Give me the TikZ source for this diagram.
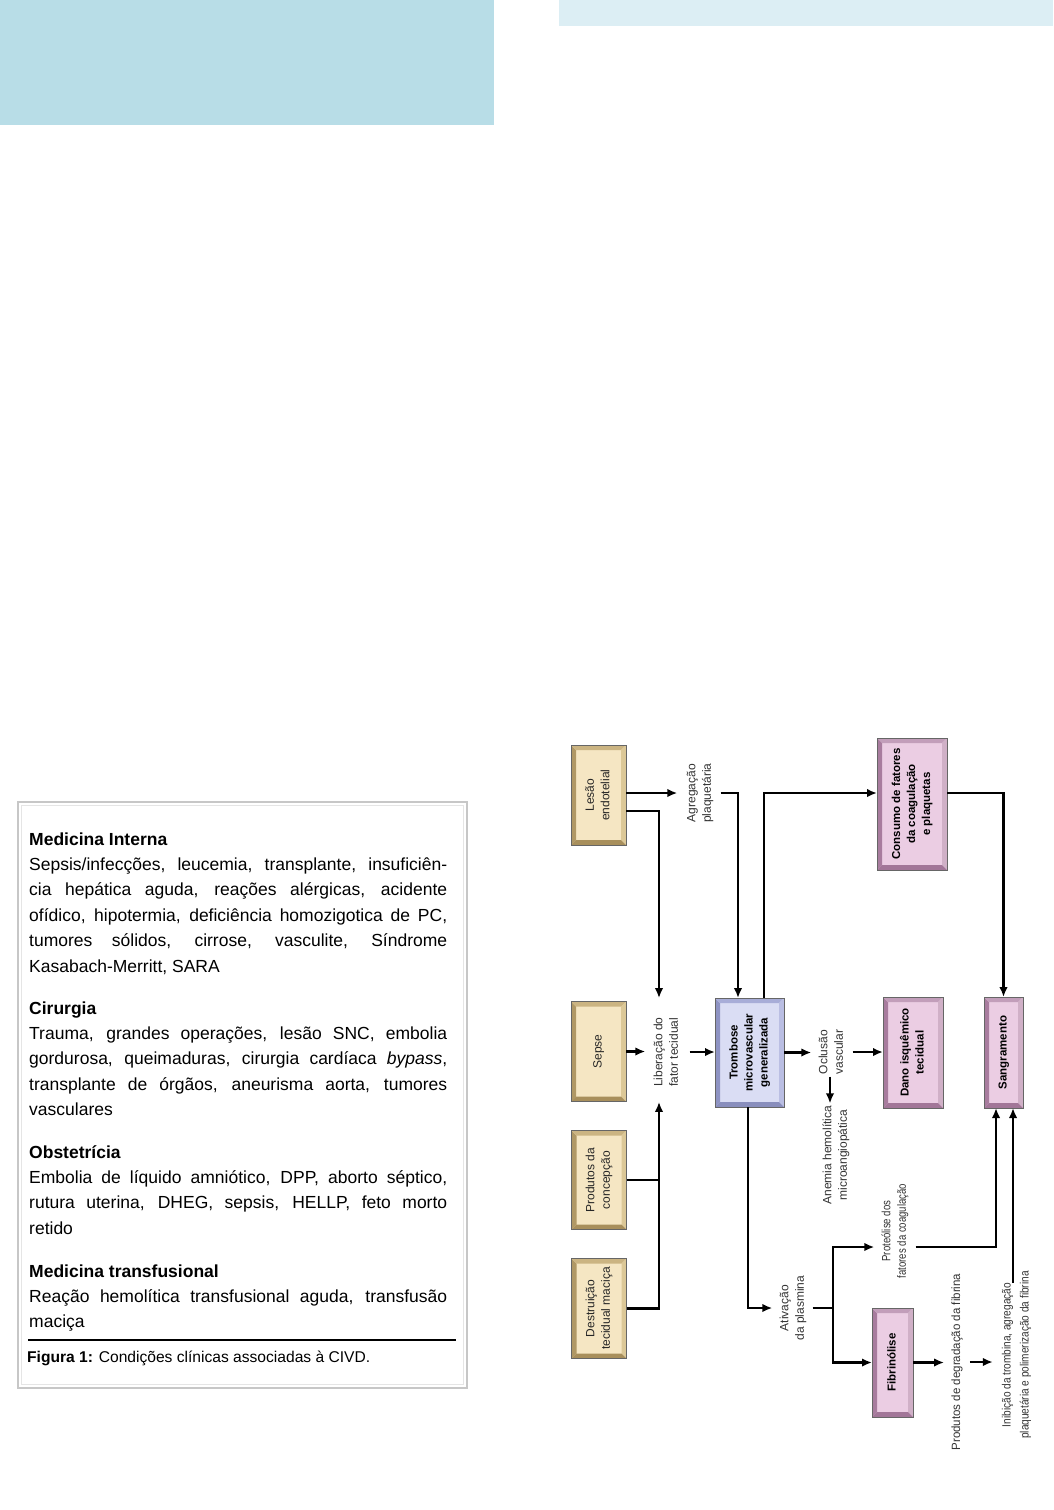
\documentclass[tikz,border=0pt]{standalone}
\usepackage{fontspec}
\setmainfont{Liberation Sans}
\usepackage{graphicx}
\usetikzlibrary{calc,arrows.meta}

\definecolor{bannerA}{HTML}{B8DDE7}
\definecolor{bannerB}{HTML}{DCEEF4}
\definecolor{tanface}{HTML}{F5E6C3}
\definecolor{tanL}{HTML}{B09865}
\definecolor{tanT}{HTML}{CBB482}
\definecolor{tanR}{HTML}{DCC897}
\definecolor{tanB}{HTML}{A88F5C}
\definecolor{blueface}{HTML}{DADDF4}
\definecolor{blueL}{HTML}{8E93C3}
\definecolor{blueT}{HTML}{A8ADD8}
\definecolor{blueR}{HTML}{BABEE3}
\definecolor{blueB}{HTML}{898EBD}
\definecolor{pinkface}{HTML}{EBCDE3}
\definecolor{pinkL}{HTML}{A87C9E}
\definecolor{pinkT}{HTML}{C29EBA}
\definecolor{pinkR}{HTML}{D0B0C7}
\definecolor{pinkB}{HTML}{A27698}
\definecolor{diagtext}{HTML}{333333}

\newcommand\rl[2][1]{\rotatebox{90}{\scalebox{#1}[1]{\begin{tabular}{@{}c@{}}#2\end{tabular}}}}
\newcommand\jl[1]{\hbox to\hsize{#1}}
\newcommand\nl[1]{\hbox{#1}}
\newcommand\bevel[5]{%
  \fill[#2] (#1.north west) -- ([shift={(5pt,-5pt)}]#1.north west) -- ([shift={(5pt,5pt)}]#1.south west) -- (#1.south west) -- cycle;
  \fill[#3] (#1.north west) -- (#1.north east) -- ([shift={(-5pt,-5pt)}]#1.north east) -- ([shift={(5pt,-5pt)}]#1.north west) -- cycle;
  \fill[#4] (#1.north east) -- (#1.south east) -- ([shift={(-5pt,5pt)}]#1.south east) -- ([shift={(-5pt,-5pt)}]#1.north east) -- cycle;
  \fill[#5] (#1.south west) -- (#1.south east) -- ([shift={(-5pt,5pt)}]#1.south east) -- ([shift={(5pt,5pt)}]#1.south west) -- cycle;
  \draw[black!60, line width=0.9pt] (#1.north west) rectangle (#1.south east);
}

\tikzset{
  arr/.style={line width=2.1pt, -{Latex[length=10pt,width=8.5pt]}},
  ln/.style={line width=2.1pt},
  lab/.style={inner sep=2pt, text=diagtext, font=\fontsize{12}{15.5}\selectfont},
  tanbox/.style={fill=tanface, inner sep=0, outer sep=0, text=black!85, font=\fontsize{12}{15.5}\selectfont},
  bluebox/.style={fill=blueface, inner sep=0, outer sep=0, text=black, font=\bfseries\fontsize{11.5}{15}\selectfont},
  pinkbox/.style={fill=pinkface, inner sep=0, outer sep=0, text=black, font=\bfseries\fontsize{11.5}{15}\selectfont},
  sect/.style={inner sep=0, anchor=base west, text=black, font=\fontsize{17.5}{25.4}\selectfont},
}

\begin{document}
\begin{tikzpicture}[x=1pt, y=-1pt]
\useasboundingbox (0,0) rectangle (1053,1510);
\fill[white] (0,0) rectangle (1053,1510);

% banners
\fill[bannerA] (0,0) rectangle (494,125);
\fill[bannerB] (559,0) rectangle (1053,26);

% ---------- left table ----------
\draw[black!22, line width=2.5pt] (18,802) rectangle (467,1388);
\draw[black!10, line width=1pt] (21.5,805.5) rectangle (463.5,1384.5);

\node[sect] (secMI) at (29,845) {\vtop{\hsize=418pt
\nl{\bfseries Medicina Interna}%
\jl{Sepsis/infecções, leucemia, transplante, insuficiên-}%
\jl{cia hepática aguda, reações alérgicas, acidente}%
\jl{ofídico, hipotermia, deficiência homozigotica de PC,}%
\jl{tumores sólidos, cirrose, vasculite, Síndrome}%
\nl{Kasabach-Merritt, SARA}}};

\node[sect] (secCI) at (29,1014) {\vtop{\hsize=418pt
\nl{\bfseries Cirurgia}%
\jl{Trauma, grandes operações, lesão SNC, embolia}%
\jl{gordurosa, queimaduras, cirurgia cardíaca \textit{bypass},}%
\jl{transplante de órgãos, aneurisma aorta, tumores}%
\nl{vasculares}}};

\node[sect] (secOB) at (29,1158) {\vtop{\hsize=418pt
\nl{\bfseries Obstetrícia}%
\jl{Embolia de líquido amniótico, DPP, aborto séptico,}%
\jl{rutura uterina, DHEG, sepsis, HELLP, feto morto}%
\nl{retido}}};

\node[sect] (secMT) at (29,1277) {\vtop{\hsize=418pt
\nl{\bfseries Medicina transfusional}%
\jl{Reação hemolítica transfusional aguda, transfusão}%
\nl{maciça}}};

\draw[line width=1.2pt] (28,1340) -- (456,1340);
\node[inner sep=0, anchor=base west, font=\fontsize{15.6}{18}\selectfont] (cap) at (27,1362) {\textbf{Figura 1:} Condições clínicas associadas à CIVD.};

% ---------- diagram boxes ----------
\node[tanbox, minimum width=55pt, minimum height=100pt] (lesao) at (598.5,795) {\rl{Lesão\\endotelial}};
\bevel{lesao}{tanL}{tanT}{tanR}{tanB}
\node[tanbox, minimum width=55pt, minimum height=100pt] (sepse) at (598.5,1051.5) {\rl{Sepse}};
\bevel{sepse}{tanL}{tanT}{tanR}{tanB}
\node[tanbox, minimum width=55pt, minimum height=99pt] (produtos) at (599,1180) {\rl{Produtos da\\concepção}};
\bevel{produtos}{tanL}{tanT}{tanR}{tanB}
\node[tanbox, minimum width=55pt, minimum height=100pt] (destr) at (599,1308.5) {\rl{Destruição\\tecidual maciça}};
\bevel{destr}{tanL}{tanT}{tanR}{tanB}

\node[bluebox, minimum width=69pt, minimum height=109pt] (tromb) at (749.5,1052.5) {\rl{Trombose\\microvascular\\generalizada}};
\bevel{tromb}{blueL}{blueT}{blueR}{blueB}

\node[pinkbox, minimum width=70pt, minimum height=132pt] (consumo) at (912,804) {\rl{Consumo de fatores\\da coagulação\\e plaquetas}};
\bevel{consumo}{pinkL}{pinkT}{pinkR}{pinkB}
\node[pinkbox, minimum width=60pt, minimum height=111pt] (dano) at (913,1052.5) {\rl{Dano isquêmico\\tecidual}};
\bevel{dano}{pinkL}{pinkT}{pinkR}{pinkB}
\node[pinkbox, minimum width=39pt, minimum height=111pt] (sangr) at (1003.5,1052.5) {\rl{Sangramento}};
\bevel{sangr}{pinkL}{pinkT}{pinkR}{pinkB}
\node[pinkbox, minimum width=41pt, minimum height=109pt] (fibrin) at (892.5,1362.5) {\rl{Fibrinólise}};
\bevel{fibrin}{pinkL}{pinkT}{pinkR}{pinkB}

% ---------- diagram labels ----------
\node[lab] (agreg) at (700,793) {\rl{Agregação\\plaquetária}};
\node[lab] (liber) at (667,1052) {\rl{Liberação do\\fator tecidual}};
\node[lab] (oclus) at (832,1052) {\rl{Oclusão\\vascular}};
\node[lab] (anemia) at (836,1155) {\rl{Anemia hemolítica\\microangiopática}};
\node[lab] (ativ) at (793,1308) {\rl{Ativação\\da plasmina}};
\node[lab] (proteo) at (895,1231) {\rl[0.8]{Proteólise dos\\fatores da coagulação}};
\node[lab] (prodeg) at (957,1362) {\rl[0.96]{Produtos de degradação da fibrina}};
\node[lab, font=\fontsize{12}{18}\selectfont] (inib) at (1016,1355) {\rl[0.84]{Inibição da trombina, agregação\\plaquetária e polimerização da fibrina}};

% ---------- junction coordinates ----------
\coordinate (jB) at ($(liber.south)+(-8,13)$);
\coordinate (jP) at (833,1308);
\coordinate (jI) at (1013,1283);

% ---------- connectors ----------
\draw[arr, shorten >=5pt] (lesao.east |- agreg.center) -- (agreg.west);
\draw[arr, shorten <=3pt] (agreg.east) -| ($(tromb.north)+(-11.5,0)$);
\draw[arr] ($(lesao.east)+(0,16)$) -| ($(liber.north)+(-8,-17)$);
\draw[arr, shorten >=4pt] (sepse.east) -- (sepse.east -| liber.west);
\draw[arr, shorten <=5pt] (liber.east) -- (liber.east -| tromb.west);
\draw[arr] (destr.east) -| (jB);
\draw[ln] (produtos.east) -- (produtos.east -| jB);

\draw[arr] ($(tromb.north)+(14.5,0)$) |- (consumo.west |- agreg.center);
\draw[arr] (consumo.east |- agreg.center) -| (sangr.north);

\draw[arr, shorten >=3pt] (tromb.east) -- (tromb.east -| oclus.west);
\draw[arr, shorten <=3pt] (oclus.east) -- (oclus.east -| dano.west);
\draw[arr] ([xshift=-2pt]oclus.south) -- ([xshift=-2pt]oclus.south |- anemia.north);

\draw[arr, shorten >=3pt] ($(tromb.south)+(-1.5,0)$) |- (ativ.west);
\draw[ln, shorten <=2pt] (ativ.east) -- (jP);
\draw[arr, shorten >=3pt] (jP) |- ($(proteo.west)+(0,16)$);
\draw[arr] (jP) |- (fibrin.west);
\draw[arr, shorten <=3pt] ($(proteo.east)+(0,16)$) -| ($(sangr.south)+(-7.5,0)$);

\draw[arr, shorten >=3pt] (fibrin.east) -- (fibrin.east -| prodeg.west);
\draw[arr, shorten <=3pt, shorten >=3pt] (prodeg.east) -- (prodeg.east -| inib.west);
\draw[arr] (jI) -- (jI |- sangr.south);
\end{tikzpicture}
\end{document}
